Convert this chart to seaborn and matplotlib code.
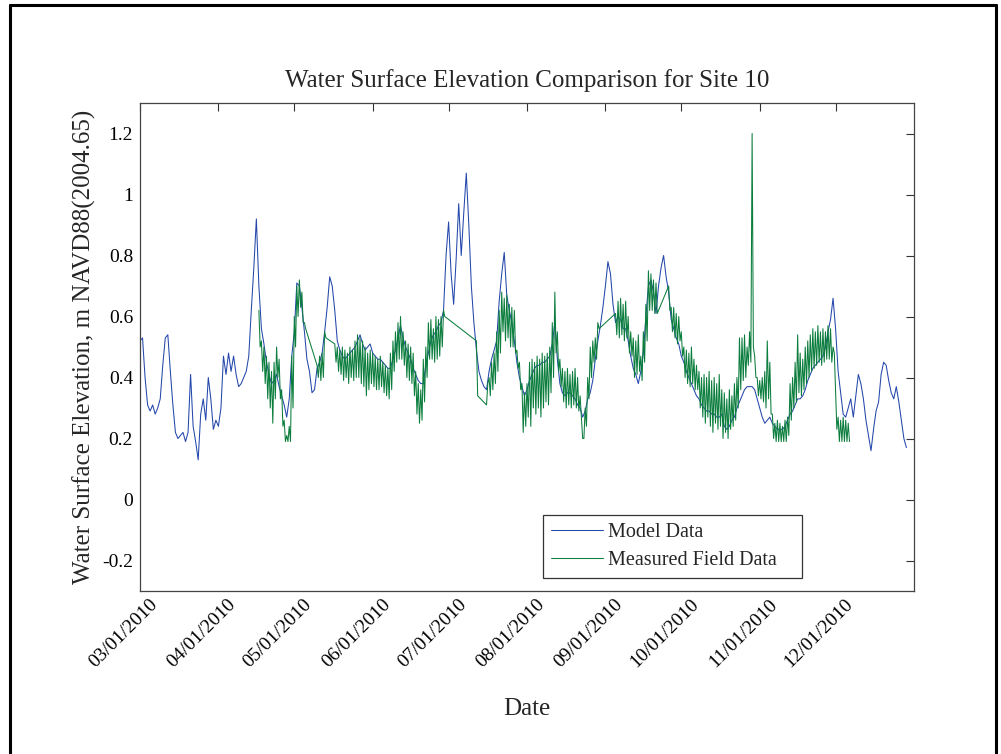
import numpy as np
import pandas as pd
import matplotlib
matplotlib.use("Agg")
import matplotlib.pyplot as plt
import matplotlib.transforms as mtransforms
from matplotlib.lines import Line2D
import seaborn as sns

# ---------------- data ----------------
start_date = "2010-03-01"

# Model water surface elevation, one value per day starting 03/01/2010
model_wse = [
    0.52, 0.53, 0.40, 0.31, 0.29, 0.31, 0.28, 0.30, 0.33, 0.44,
    0.53, 0.54, 0.42, 0.31, 0.22, 0.20, 0.21, 0.22, 0.19, 0.22,
    0.41, 0.24, 0.19, 0.13, 0.28, 0.33, 0.26, 0.40, 0.33, 0.23,
    0.26, 0.24, 0.30, 0.47, 0.41, 0.48, 0.42, 0.47, 0.41, 0.37,
    0.38, 0.40, 0.42, 0.47, 0.62, 0.76, 0.92, 0.70, 0.56, 0.51,
    0.45, 0.41, 0.38, 0.39, 0.41, 0.37, 0.34, 0.31, 0.27, 0.33,
    0.47, 0.55, 0.71, 0.70, 0.63, 0.55, 0.46, 0.42, 0.35, 0.36,
    0.43, 0.45, 0.48, 0.55, 0.63, 0.73, 0.70, 0.62, 0.52, 0.49,
    0.47, 0.46, 0.47, 0.48, 0.49, 0.50, 0.52, 0.54, 0.51, 0.49,
    0.50, 0.51, 0.48, 0.47, 0.46, 0.46, 0.45, 0.44, 0.43, 0.43,
    0.46, 0.49, 0.53, 0.57, 0.53, 0.50, 0.48, 0.46, 0.43, 0.41,
    0.39, 0.38, 0.38, 0.44, 0.48, 0.52, 0.54, 0.55, 0.57, 0.58,
    0.62, 0.80, 0.91, 0.74, 0.64, 0.79, 0.97, 0.80, 0.94, 1.07,
    0.90, 0.70, 0.58, 0.49, 0.42, 0.39, 0.37, 0.36, 0.42, 0.46,
    0.49, 0.52, 0.65, 0.74, 0.81, 0.67, 0.62, 0.58, 0.52, 0.45,
    0.40, 0.37, 0.34, 0.36, 0.39, 0.41, 0.43, 0.44, 0.44, 0.45,
    0.45, 0.46, 0.47, 0.51, 0.58, 0.46, 0.38, 0.35, 0.34, 0.35,
    0.35, 0.34, 0.33, 0.31, 0.30, 0.27, 0.29, 0.33, 0.35, 0.39,
    0.46, 0.52, 0.57, 0.63, 0.70, 0.78, 0.74, 0.64, 0.58, 0.60,
    0.59, 0.56, 0.56, 0.52, 0.47, 0.43, 0.41, 0.38, 0.42, 0.48,
    0.60, 0.70, 0.72, 0.68, 0.61, 0.70, 0.76, 0.80, 0.73, 0.68,
    0.59, 0.56, 0.53, 0.51, 0.47, 0.45, 0.42, 0.40, 0.38, 0.36,
    0.34, 0.33, 0.31, 0.30, 0.29, 0.29, 0.28, 0.28, 0.27, 0.27,
    0.28, 0.24, 0.23, 0.24, 0.26, 0.27, 0.30, 0.32, 0.34, 0.36,
    0.37, 0.37, 0.37, 0.36, 0.33, 0.30, 0.27, 0.25, 0.26, 0.27,
    0.25, 0.24, 0.23, 0.23, 0.23, 0.24, 0.26, 0.28, 0.29, 0.31,
    0.33, 0.33, 0.34, 0.36, 0.39, 0.41, 0.43, 0.44, 0.45, 0.46,
    0.47, 0.50, 0.55, 0.59, 0.66, 0.56, 0.42, 0.35, 0.28, 0.27,
    0.30, 0.33, 0.27, 0.34, 0.41, 0.38, 0.33, 0.26, 0.21, 0.16,
    0.23, 0.29, 0.32, 0.41, 0.45, 0.44, 0.39, 0.35, 0.33, 0.37,
    0.32, 0.26, 0.20, 0.17,
]

# Measured field data: day offset from 03/01/2010, first and second tide reading of that day
meas_day = (list(range(47, 66)) + list(range(70, 74)) + list(range(77, 121)) + [133]
            + list(range(137, 182)) + list(range(188, 205)) + list(range(209, 281)))
meas_first = [
    0.62, 0.52, 0.50, 0.47, 0.45, 0.42, 0.45, 0.50, 0.46, 0.36,
    0.26, 0.21, 0.24, 0.47, 0.60, 0.70, 0.72, 0.68, 0.58,
    0.44, 0.47, 0.48, 0.55,
    0.51, 0.50, 0.49, 0.50, 0.49, 0.48, 0.50, 0.49, 0.52, 0.54,
    0.53, 0.52, 0.50, 0.48, 0.49, 0.48, 0.47, 0.46, 0.47, 0.45,
    0.44, 0.43, 0.48, 0.52, 0.55, 0.58, 0.60, 0.55, 0.52, 0.51,
    0.50, 0.48, 0.42, 0.38, 0.36, 0.46, 0.50, 0.58, 0.59, 0.56,
    0.60, 0.59, 0.60, 0.62,
    0.52,
    0.31, 0.40, 0.45, 0.48, 0.55, 0.62, 0.68, 0.66, 0.67, 0.64,
    0.63, 0.62, 0.49, 0.45, 0.38, 0.35, 0.38, 0.45, 0.46, 0.45,
    0.47, 0.46, 0.48, 0.47, 0.48, 0.50, 0.58, 0.68, 0.55, 0.46,
    0.43, 0.42, 0.43, 0.41, 0.42, 0.43, 0.40, 0.34, 0.20, 0.30,
    0.40, 0.50, 0.52, 0.53, 0.58,
    0.61, 0.65, 0.66, 0.64, 0.65, 0.60, 0.55, 0.53, 0.52, 0.54,
    0.47, 0.55, 0.64, 0.75, 0.74, 0.72, 0.71,
    0.70, 0.63, 0.63, 0.61, 0.60, 0.55, 0.50, 0.49, 0.48, 0.50,
    0.46, 0.44, 0.42, 0.40, 0.41, 0.40, 0.42, 0.39, 0.40, 0.38,
    0.41, 0.36, 0.35, 0.33, 0.36, 0.34, 0.38, 0.40, 0.53, 0.53,
    0.54, 0.50, 0.55, 1.20, 0.47, 0.40, 0.39, 0.40, 0.42, 0.52,
    0.45, 0.28, 0.25, 0.26, 0.25, 0.24, 0.26, 0.27, 0.38, 0.40,
    0.45, 0.54, 0.48, 0.46, 0.50, 0.52, 0.54, 0.56, 0.55, 0.57,
    0.55, 0.56, 0.55, 0.57, 0.56, 0.50, 0.35, 0.27, 0.26, 0.27,
    0.26, 0.25,
]
meas_second = [
    0.50, 0.42, 0.38, 0.33, 0.30, 0.25, 0.33, 0.40, 0.33, 0.24,
    0.19, 0.19, 0.19, 0.30, 0.50, 0.60, 0.63, 0.58, 0.56,
    0.40, 0.39, 0.40, 0.53,
    0.45, 0.42, 0.41, 0.39, 0.40, 0.38, 0.40, 0.39, 0.40, 0.40,
    0.38, 0.37, 0.34, 0.36, 0.38, 0.37, 0.36, 0.36, 0.37, 0.35,
    0.34, 0.33, 0.36, 0.42, 0.45, 0.46, 0.46, 0.44, 0.40, 0.39,
    0.38, 0.34, 0.28, 0.25, 0.26, 0.32, 0.40, 0.46, 0.46, 0.45,
    0.46, 0.47, 0.50, 0.60,
    0.34,
    0.38, 0.34, 0.36, 0.38, 0.42, 0.48, 0.55, 0.52, 0.53, 0.50,
    0.50, 0.48, 0.43, 0.36, 0.22, 0.24, 0.27, 0.24, 0.30, 0.28,
    0.30, 0.27, 0.30, 0.32, 0.31, 0.35, 0.40, 0.48, 0.42, 0.37,
    0.32, 0.30, 0.31, 0.30, 0.31, 0.30, 0.29, 0.27, 0.20, 0.24,
    0.33, 0.40, 0.45, 0.46, 0.56,
    0.54, 0.53, 0.54, 0.52, 0.53, 0.48, 0.47, 0.40, 0.41, 0.42,
    0.39, 0.45, 0.52, 0.62, 0.62, 0.61, 0.61,
    0.62, 0.55, 0.53, 0.51, 0.52, 0.47, 0.40, 0.38, 0.37, 0.38,
    0.36, 0.36, 0.30, 0.27, 0.25, 0.27, 0.24, 0.22, 0.25, 0.23,
    0.24, 0.20, 0.22, 0.20, 0.23, 0.24, 0.26, 0.30, 0.36, 0.39,
    0.40, 0.44, 0.45, 0.50, 0.40, 0.34, 0.33, 0.32, 0.30, 0.33,
    0.28, 0.20, 0.19, 0.19, 0.19, 0.19, 0.19, 0.21, 0.26, 0.30,
    0.32, 0.35, 0.34, 0.36, 0.38, 0.40, 0.42, 0.43, 0.44, 0.45,
    0.44, 0.45, 0.46, 0.46, 0.45, 0.48, 0.23, 0.19, 0.19, 0.19,
    0.19, 0.19,
]

x_tick_dates = ["2010-03-01", "2010-04-01", "2010-05-01", "2010-06-01", "2010-07-01",
                "2010-08-01", "2010-09-01", "2010-10-01", "2010-11-01", "2010-12-01"]
x_tick_labels = ["03/01/2010", "04/01/2010", "05/01/2010", "06/01/2010", "07/01/2010",
                 "08/01/2010", "09/01/2010", "10/01/2010", "11/01/2010", "12/01/2010"]
y_ticks = [-0.2, 0.0, 0.2, 0.4, 0.6, 0.8, 1.0, 1.2]
y_tick_labels = ["-0.2", "0", "0.2", "0.4", "0.6", "0.8", "1", "1.2"]
title_text = "Water Surface Elevation Comparison for Site 10"
x_label = "Date"
y_label = "Water Surface Elevation, m NAVD88(2004.65)"
series_names = ["Model Data", "Measured Field Data"]

# ---------------- frames ----------------
start = pd.Timestamp(start_date)
model_df = pd.DataFrame({
    "date": start + pd.to_timedelta(np.arange(len(model_wse)), unit="D"),
    "wse": model_wse,
})
t_meas, v_meas = [], []
for d, a, b in zip(meas_day, meas_first, meas_second):
    t_meas += [d, d + 0.5]
    v_meas += [a, b]
meas_df = pd.DataFrame({
    "date": start + pd.to_timedelta(t_meas, unit="D"),
    "wse": v_meas,
})

# ---------------- style ----------------
sns.set_style("white")
plt.rcParams["font.family"] = ["Liberation Serif", "DejaVu Serif"]
plt.rcParams["axes.unicode_minus"] = False

W, H = 1001, 754
fig = plt.figure(figsize=(W / 100, H / 100), dpi=100)
ax = fig.add_axes([140 / W, 1 - 591 / H, 774 / W, 488 / H])

blue = "#2347aa"
green = "#0b7d3d"
sns.lineplot(data=model_df, x="date", y="wse", ax=ax, color=blue, lw=0.75,
             sort=False, estimator=None, label=series_names[0])
sns.lineplot(data=meas_df, x="date", y="wse", ax=ax, color=green, lw=0.75,
             sort=False, estimator=None, label=series_names[1])

ax.set_xlim(pd.Timestamp("2010-03-01"), pd.Timestamp("2011-01-01"))
ax.set_ylim(-0.3, 1.3)

ax.set_xticks(pd.to_datetime(x_tick_dates))
ax.set_xticklabels(x_tick_labels, rotation=45, ha="right", va="top",
                   rotation_mode="anchor")
ax.set_yticks(y_ticks)
ax.set_yticklabels(y_tick_labels)

ax.tick_params(axis="both", direction="in", length=6, width=0.8, color="#333333",
               top=True, right=True, labelsize=14, labelcolor="black")
ax.tick_params(axis="x", pad=2)
ax.tick_params(axis="y", pad=5)

off = mtransforms.ScaledTranslation(9 / 100, -2 / 100, fig.dpi_scale_trans)
for lab in ax.get_xticklabels():
    lab.set_transform(lab.get_transform() + off)

for sp in ax.spines.values():
    sp.set_visible(True)
    sp.set_color("#444444")
    sp.set_linewidth(0.9)

ax.set_title(title_text, fontsize=18, pad=11.5)
ax.set_xlabel(x_label, fontsize=18)
ax.set_ylabel(y_label, fontsize=18)
ax.xaxis.set_label_coords(0.5, -0.219)
ax.yaxis.set_label_coords(-0.057, 0.5)

leg = ax.legend(loc="lower left", bbox_to_anchor=(403 / 774, 13 / 488, 259 / 774, 63 / 488),
                mode="expand", borderaxespad=0,
                fontsize=14.5, frameon=True, fancybox=False, framealpha=1,
                handlelength=2.6, handletextpad=0.25, borderpad=0.4, labelspacing=0.45)
leg.get_frame().set_edgecolor("#333333")
leg.get_frame().set_linewidth(0.9)

# outer figure frame
fig.add_artist(Line2D([9.5 / W, 9.5 / W], [0, 1 - 4.5 / H], transform=fig.transFigure,
                      color="black", lw=2.2))
fig.add_artist(Line2D([9.5 / W, 996 / W], [1 - 4.5 / H, 1 - 4.5 / H], transform=fig.transFigure,
                      color="black", lw=2.2))
fig.add_artist(Line2D([996 / W, 996 / W], [0, 1 - 4.5 / H], transform=fig.transFigure,
                      color="black", lw=2.2))

fig.savefig("out.png", dpi=100)
